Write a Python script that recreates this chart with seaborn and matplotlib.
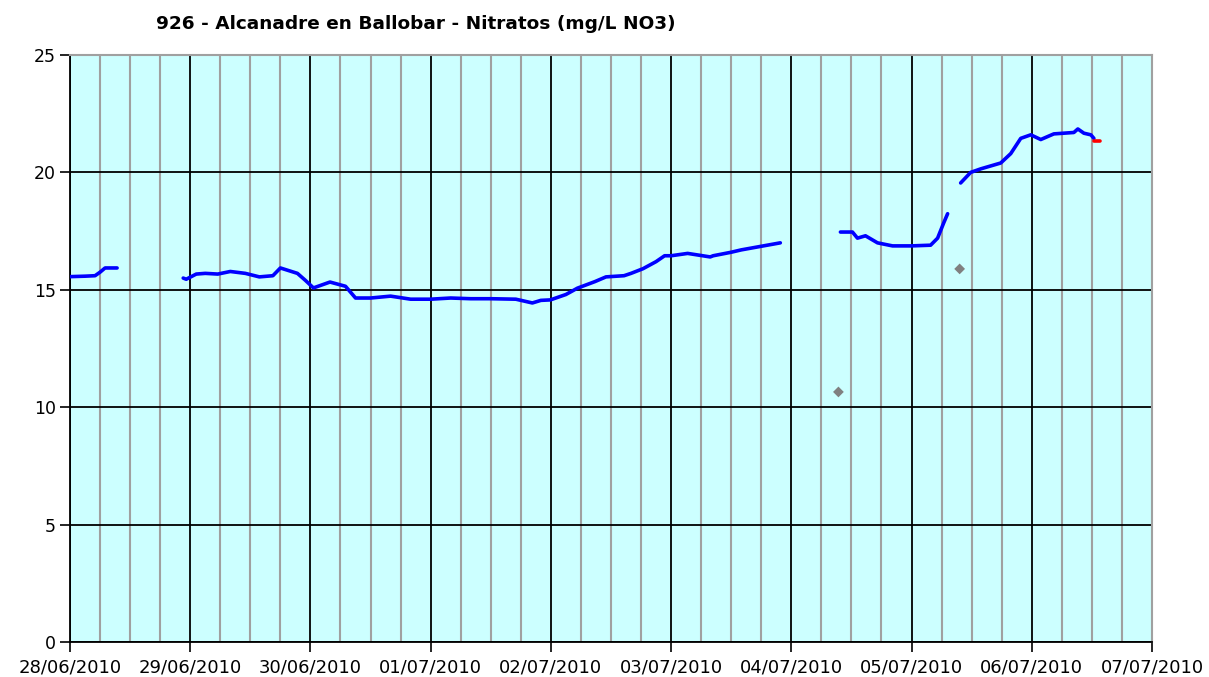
import pandas as pd
import numpy as np
import matplotlib
matplotlib.use('Agg')
import matplotlib.pyplot as plt
import matplotlib.dates as mdates
import seaborn as sns

# hours since 28/06/2010 00:00 and nitrate values (mg/L NO3), one list pair per segment
seg1_h = [0.0, 3.0, 5.0, 6.0, 7.0, 8.0, 9.4]
seg1_v = [15.56, 15.58, 15.6, 15.75, 15.93, 15.93, 15.93]

seg2_h = [22.6, 23.2, 25.2, 27.0, 29.5, 32.0, 35.0, 37.8, 40.5, 42.0, 45.4, 47.0, 48.6, 51.9,
          55.0, 57.0, 60.0, 64.0, 68.0, 72.0, 76.0, 80.0, 84.0, 89.0, 92.3, 94.0, 95.9, 99.0,
          101.3, 104.8, 107.0, 110.6, 112.0, 114.4, 117.0, 118.7, 120.0, 123.3, 127.8, 128.4, 132.0,
          134.0, 141.8]
seg2_v = [15.5, 15.45, 15.67, 15.7, 15.67, 15.78, 15.7, 15.55, 15.6, 15.93, 15.7, 15.4, 15.08, 15.33,
          15.15, 14.65, 14.65, 14.73, 14.6, 14.6, 14.65, 14.62, 14.62, 14.6, 14.44, 14.55, 14.57, 14.8,
          15.07, 15.35, 15.55, 15.6, 15.7, 15.9, 16.2, 16.45, 16.45, 16.55, 16.4, 16.45, 16.6,
          16.7, 17.0]

seg3_h = [153.8, 156.2, 157.2, 158.8, 161.2, 164.2, 168.0, 171.8, 173.2, 174.4, 175.2]
seg3_v = [17.46, 17.46, 17.2, 17.3, 17.0, 16.87, 16.87, 16.9, 17.2, 17.84, 18.24]

seg4_h = [177.8, 179.8, 181.8, 185.8, 187.8, 189.8, 191.8, 193.8, 196.4, 200.4, 201.2, 202.4, 203.8, 204.4]
seg4_v = [19.55, 20.0, 20.15, 20.4, 20.8, 21.45, 21.6, 21.4, 21.64, 21.7, 21.85, 21.67, 21.6, 21.45]

red_h = [204.4, 205.6]
red_v = [21.33, 21.33]

gray_h = [153.4, 177.6]
gray_v = [10.65, 15.89]

start = pd.Timestamp('2010-06-28')

rows = []
for name, hh, vv in [('s1', seg1_h, seg1_v), ('s2', seg2_h, seg2_v),
                     ('s3', seg3_h, seg3_v), ('s4', seg4_h, seg4_v)]:
    for h, v in zip(hh, vv):
        rows.append({'fecha': start + pd.Timedelta(hours=h), 'valor': v, 'tramo': name})
df = pd.DataFrame(rows)
df_red = pd.DataFrame({'fecha': [start + pd.Timedelta(hours=h) for h in red_h], 'valor': red_v})
df_gray = pd.DataFrame({'fecha': [start + pd.Timedelta(hours=h) for h in gray_h], 'valor': gray_v})

sns.set_style('white')
plt.rcParams['font.family'] = ['DejaVu Sans']

fig = plt.figure(figsize=(12.09, 6.77), dpi=100)
ax = fig.add_axes([70 / 1209, 35 / 677, 1082 / 1209, 587 / 677])
ax.set_facecolor('#ccffff')

sns.lineplot(data=df, x='fecha', y='valor', units='tramo', estimator=None,
             color='#0000ff', linewidth=2.6, ax=ax, zorder=3)
sns.lineplot(data=df_red, x='fecha', y='valor', color='#ff0000', linewidth=2.6, ax=ax, zorder=4)
sns.scatterplot(data=df_gray, x='fecha', y='valor', color='#808080', marker='D', s=30,
                edgecolor='none', ax=ax, zorder=4)

ax.set_xlim(start, start + pd.Timedelta(days=9))
ax.set_ylim(0, 25)
ax.set_yticks([0, 5, 10, 15, 20, 25])

ax.xaxis.set_major_locator(mdates.DayLocator())
ax.xaxis.set_major_formatter(mdates.DateFormatter('%d/%m/%Y'))
ax.xaxis.set_minor_locator(mdates.HourLocator(byhour=[6, 12, 18]))

ax.grid(which='minor', axis='x', color='#a0a0a0', linewidth=1.5, zorder=1)
ax.grid(which='major', axis='x', color='black', linewidth=1.3, zorder=2)
ax.grid(which='major', axis='y', color='black', linewidth=1.3, zorder=2)
ax.set_axisbelow(True)

ax.tick_params(axis='both', which='major', direction='out', length=7, width=1.2,
               color='black', labelcolor='black', bottom=True, left=True)
ax.tick_params(axis='x', which='major', labelsize=13, pad=5)
ax.tick_params(axis='y', which='major', labelsize=12.5, pad=3)
ax.tick_params(axis='x', which='minor', length=0)

for s in ['left', 'bottom']:
    ax.spines[s].set_color('black')
    ax.spines[s].set_linewidth(1.3)
for s in ['top', 'right']:
    ax.spines[s].set_color('#a0a0a0')
    ax.spines[s].set_linewidth(1.5)

ax.set_xlabel('')
ax.set_ylabel('')

fig.text(416 / 1209, 1 - 24 / 677, '926 - Alcanadre en Ballobar - Nitratos (mg/L NO3)',
         ha='center', va='center', fontsize=13.3, fontweight='bold', color='black')

fig.savefig('out.png', dpi=100)
